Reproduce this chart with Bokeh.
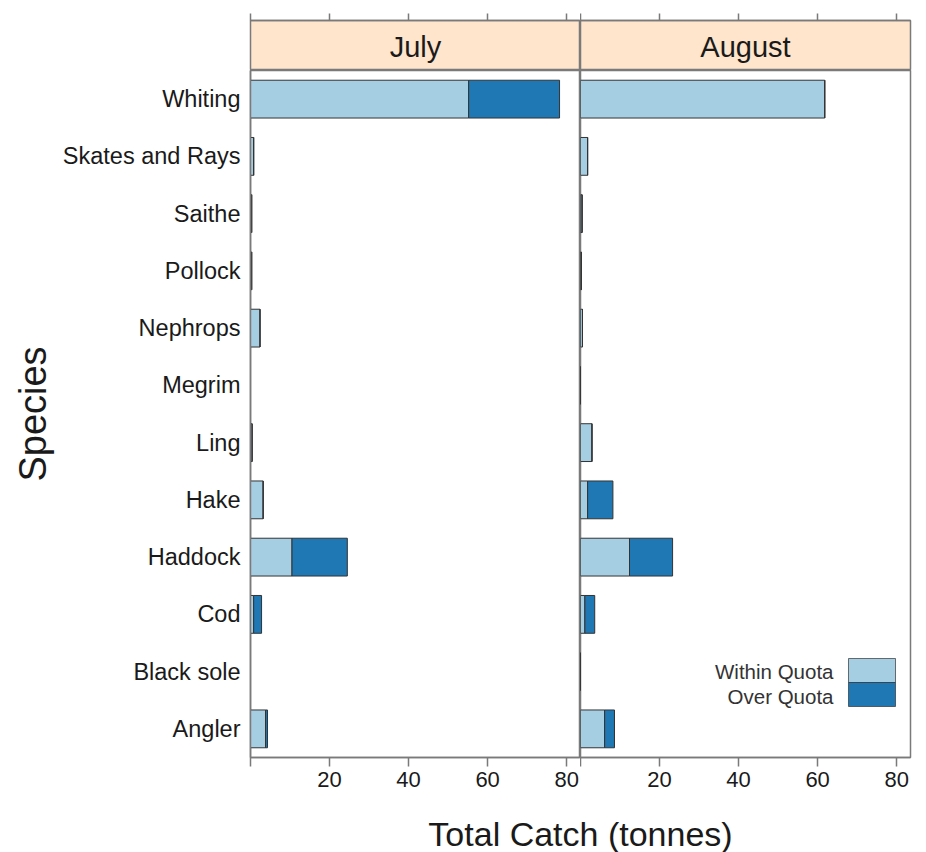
from bokeh.plotting import figure
from bokeh.models import ColumnDataSource, FactorRange, Range1d, FixedTicker, Label, BoxAnnotation
from bokeh.layouts import column, row
from bokeh.embed import file_html
from bokeh.resources import INLINE

# ---- data (top to bottom as in the chart) ----
species = ["Whiting", "Skates and Rays", "Saithe", "Pollock", "Nephrops", "Megrim",
           "Ling", "Hake", "Haddock", "Cod", "Black sole", "Angler"]
months = ["July", "August"]
jul_within = [55.2, 0.8, 0.3, 0.3, 2.4, 0.0, 0.4, 3.2, 10.5, 0.8, 0.0, 3.8]
jul_over = [23.0, 0.0, 0.0, 0.0, 0.0, 0.0, 0.0, 0.0, 14.0, 2.0, 0.0, 0.5]
aug_within = [61.8, 1.8, 0.4, 0.2, 0.5, 0.0, 2.9, 1.8, 12.4, 1.1, 0.0, 6.1]
aug_over = [0.0, 0.0, 0.0, 0.0, 0.0, 0.0, 0.0, 6.4, 10.9, 2.5, 0.0, 2.5]
x_ticks = [0, 20, 40, 60, 80]
x_tick_labels = {0: "", 20: "20", 40: "40", 60: "60", 80: "80"}
x_top_labels = {0: "", 20: "", 40: "", 60: "", 80: ""}
legend_labels = ["Within Quota", "Over Quota"]
x_title = "Total Catch (tonnes)"
y_title = "Species"

FONT = "Liberation Sans"
WITHIN = "#A6CEE3"
OVER = "#1F78B4"
STRIP = "#FFE5CC"
BORDER = "#7a7a7a"
BAR_LINE = "#333333"
TXT = "#1a1a1a"

x_range = Range1d(0, 83.5)
y_range = FactorRange(factors=species[::-1])


def base_fig(first, **kw):
    return figure(x_range=x_range, frame_width=330,
                  min_border_left=250 if first else 0,
                  min_border_right=0 if first else 8,
                  toolbar_location=None, output_backend="svg", title=None, **kw)


def style_xaxis(ax, top):
    ax.ticker = FixedTicker(ticks=x_ticks)
    ax.minor_tick_out = 0
    ax.minor_tick_in = 0
    ax.major_tick_in = 0
    ax.axis_line_color = BORDER
    ax.major_tick_line_color = BORDER
    ax.axis_line_width = 1.5
    ax.major_tick_line_width = 1.5
    if top:
        ax.major_label_overrides = x_top_labels
        ax.major_tick_out = 7
        ax.major_label_text_font_size = "8px"
        ax.major_label_standoff = 0
    else:
        ax.major_label_overrides = x_tick_labels
        ax.major_tick_out = 9
        ax.major_label_standoff = 5
        ax.major_label_text_font_size = "22px"
        ax.major_label_text_font = FONT
        ax.major_label_text_color = TXT


def strip_fig(name, first):
    s = base_fig(first, y_range=Range1d(0, 1), frame_height=50,
                 min_border_top=20, min_border_bottom=0,
                 x_axis_location="above", y_axis_location=None,
                 background_fill_color=STRIP, outline_line_color=BORDER)
    s.outline_line_width = 1.5
    s.grid.visible = False
    style_xaxis(s.xaxis[0], True)
    s.add_layout(Label(x=165, y=24, x_units="screen", y_units="screen", text=name,
                       text_align="center", text_baseline="middle",
                       text_font_size="29px", text_font=FONT, text_color=TXT))
    return s


def panel_fig(within, over, first):
    src = ColumnDataSource(dict(species=species, within=within,
                                total=[w + o for w, o in zip(within, over)]))
    p = base_fig(first, y_range=y_range, frame_height=687,
                 min_border_top=0, min_border_bottom=42,
                 y_axis_location="left" if first else None,
                 outline_line_color=BORDER)
    p.outline_line_width = 1.5
    p.grid.visible = False
    p.hbar(y="species", left=0, right="within", height=0.66, source=src,
           fill_color=WITHIN, line_color=BAR_LINE, line_width=1)
    p.hbar(y="species", left="within", right="total", height=0.66, source=src,
           fill_color=OVER, line_color=BAR_LINE, line_width=1)
    style_xaxis(p.xaxis[0], False)
    if first:
        ya = p.yaxis[0]
        ya.major_tick_out = 0
        ya.major_tick_in = 0
        ya.minor_tick_out = 0
        ya.axis_line_color = BORDER
        ya.axis_line_width = 1.5
        ya.major_label_standoff = 10
        ya.major_label_text_font_size = "23.5px"
        ya.major_label_text_font = FONT
        ya.major_label_text_color = TXT
        ya.axis_label = y_title
        ya.axis_label_text_font_size = "38px"
        ya.axis_label_text_font = FONT
        ya.axis_label_text_font_style = "normal"
        ya.axis_label_text_color = TXT
        ya.axis_label_standoff = 6
    return p


strip_jul = strip_fig(months[0], True)
strip_aug = strip_fig(months[1], False)
main_jul = panel_fig(jul_within, jul_over, True)
main_aug = panel_fig(aug_within, aug_over, False)

# legend (lattice style: labels left of stacked colour keys)
main_aug.add_layout(BoxAnnotation(left=268, right=315, bottom=75, top=99,
                                  left_units="screen", right_units="screen",
                                  bottom_units="screen", top_units="screen",
                                  fill_color=WITHIN, fill_alpha=1,
                                  line_color=BAR_LINE, line_width=1, line_alpha=0.7))
main_aug.add_layout(BoxAnnotation(left=268, right=315, bottom=51, top=75,
                                  left_units="screen", right_units="screen",
                                  bottom_units="screen", top_units="screen",
                                  fill_color=OVER, fill_alpha=1,
                                  line_color=BAR_LINE, line_width=1, line_alpha=0.7))
for lab, yy in zip(legend_labels, [86, 61]):
    main_aug.add_layout(Label(x=253, y=yy, x_units="screen", y_units="screen", text=lab,
                              text_align="right", text_baseline="middle",
                              text_font_size="20.5px", text_font=FONT, text_color="#333333"))

# x axis title spanning both panels
xlab = figure(width=918, height=53, x_range=Range1d(0, 1), y_range=Range1d(0, 1),
              x_axis_location=None, y_axis_location=None, toolbar_location=None,
              output_backend="svg", title=None, outline_line_color=None, min_border=0)
xlab.grid.visible = False
xlab.add_layout(Label(x=580, y=19, x_units="screen", y_units="screen", text=x_title,
                      text_align="center", text_baseline="middle",
                      text_font_size="34px", text_font=FONT, text_color=TXT))

layout = column(row(strip_jul, strip_aug), row(main_jul, main_aug), xlab, spacing=0)

open("out.html", "w").write(file_html(layout, INLINE))
